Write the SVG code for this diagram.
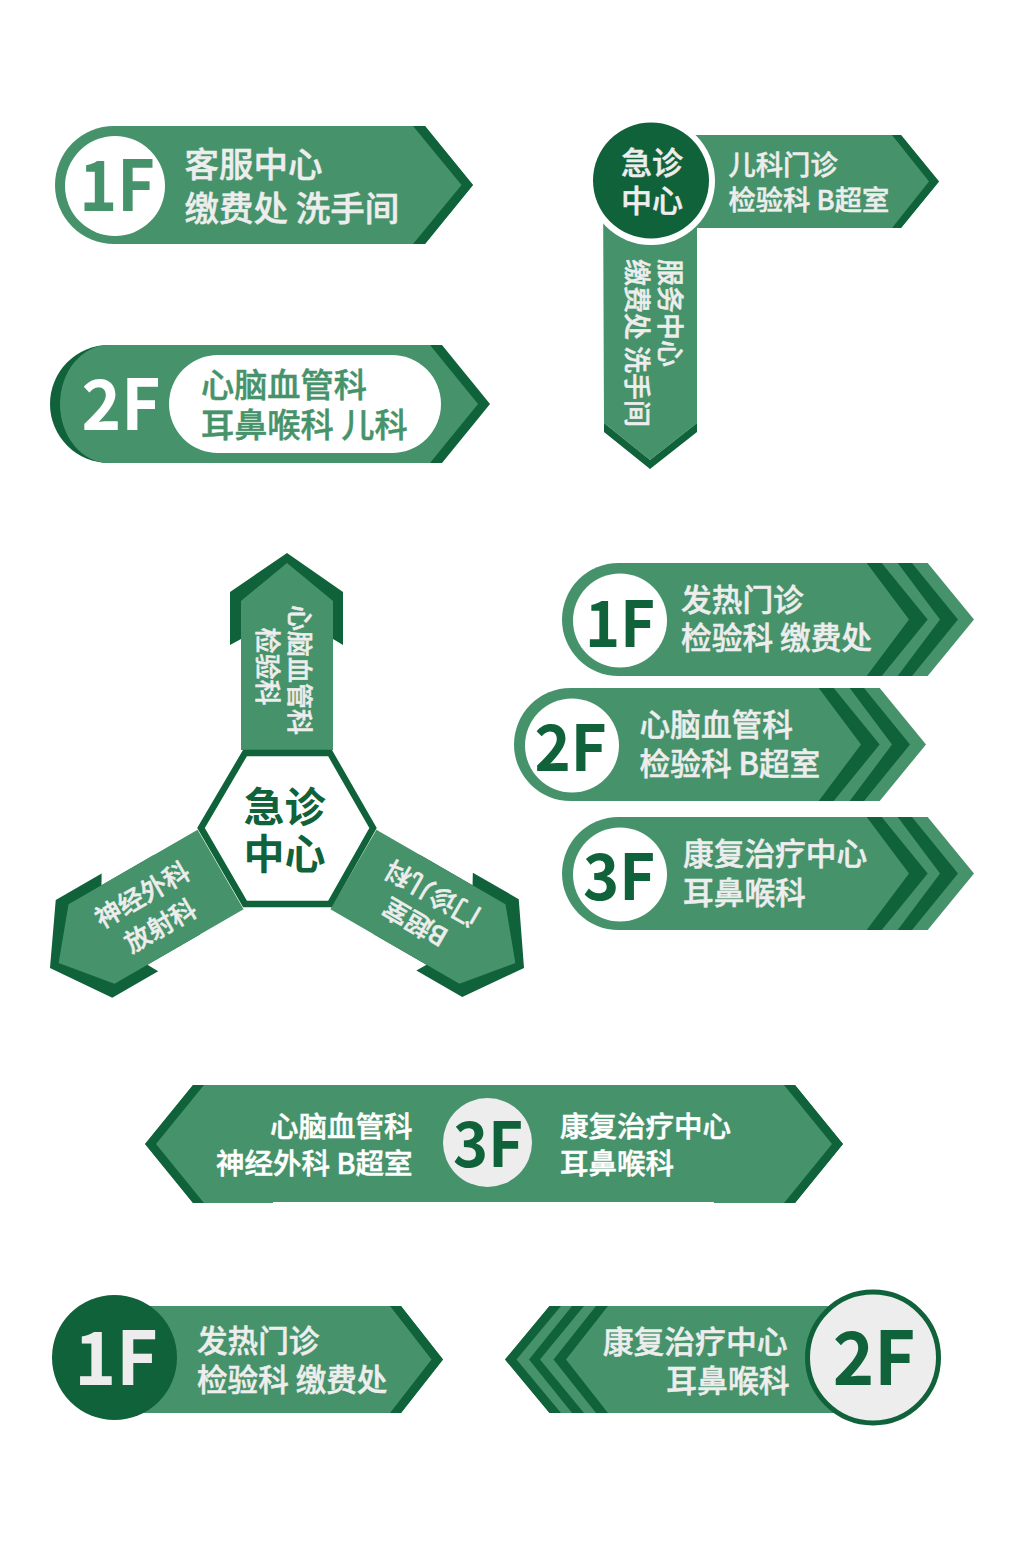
<svg xmlns="http://www.w3.org/2000/svg" width="1024" height="1542" viewBox="0 0 1024 1542">
<style>
text{font-family:"Noto Sans CJK SC","Noto Sans",sans-serif;font-weight:500}
.m{fill:#46936B}.d{fill:#10623A}.w{fill:#fff}.l{fill:#EDEDED}
text.m{stroke:#46936B;stroke-width:.5}text.w{stroke:#fff;stroke-width:.5}text.l{stroke:#EDEDED;stroke-width:.5}
text.n{font-weight:700;text-anchor:middle;stroke:none}
text.g{fill:#10623A}text.f{fill:#46936B}text.h{fill:#fff}
.e{text-anchor:end}.c{text-anchor:middle}
</style>
<defs>
<g id="tripleBar">
<path class="m" d="M56.500,0H365.700L412,56.500L365.700,113H56.500A56.500,56.500 0 0 1 56.500,0Z"/>
<path class="d" d="M304.700,0H319.700L365.700,56.500L319.700,113H304.700L347,56.500Z"/>
<path class="d" d="M335.700,0H350L396,56.500L350,113H335.700L378,56.500Z"/>
</g>
<g id="arm">
<path class="d" d="M230,592L287,553L343,592V645L333,639V700H241V639L230,645Z"/>
<path class="m" d="M241,750V601L287,563L333,601V750Z"/>
</g>
</defs>

<g id="pill-1f">
<path class="m" d="M114,126H425L473,185L425,244H114A59,59 0 0 1 114,126Z"/>
<path class="d" d="M413,126H425L473,185L425,244H413L461.500,185Z"/>
<circle class="w" cx="115" cy="186" r="50"/>
<text class="n f" transform="translate(117,211) scale(.92,1)" font-size="70">1F</text>
<text class="l" x="184.500" y="177" font-size="34.500">客服中心</text>
<text class="l" x="184.500" y="221" font-size="34.500">缴费处 洗手间</text>
</g>

<g id="pill-2f">
<path class="d" d="M109,345H442L490,404L442,463H109A59,59 0 0 1 109,345Z"/>
<path class="m" d="M109,345H430L478,404L430,463H109A49,59 0 0 1 109,345Z"/>
<rect class="w" x="169" y="355" width="272" height="98" rx="49"/>
<text class="n h" transform="translate(121,430) scale(.96,1)" font-size="70">2F</text>
<text class="m" x="201" y="397" font-size="33.200">心脑血管科</text>
<text class="m" x="201" y="437" font-size="33.200">耳鼻喉科 儿科</text>
</g>

<g id="corner-node">
<path class="m" d="M650,135H901L939,181.500L901,228H697V423L650,460L604,423L603,180Z"/>
<path class="d" d="M892,135H901L939,181.500L901,228H892L929,181.500Z"/>
<path class="d" d="M604,423L650,460L697,423V432L650,469L604,432Z"/>
<circle class="w" cx="651" cy="181" r="64"/>
<circle class="d" cx="651" cy="180.500" r="58"/>
<text class="l c" x="652" y="174" font-size="31">急诊</text>
<text class="l c" x="652" y="212" font-size="31">中心</text>
<text class="l" x="728.500" y="175" font-size="27.300">儿科门诊</text>
<text class="l" x="728.500" y="210" font-size="27.300">检验科 B超室</text>
<text class="l" transform="translate(660,259) rotate(90)" font-size="27">服务中心</text>
<text class="l" transform="translate(627,259) rotate(90)" font-size="27">缴费处 洗手间</text>
</g>

<g id="tri-arm-top">
<use href="#arm"/>
<text class="l c" transform="translate(290,670) rotate(90)" font-size="26">心脑血管科</text>
<text class="l c" transform="translate(257.500,666.500) rotate(90)" font-size="26">检验科</text>
</g>
<g id="tri-arm-right">
<use href="#arm" transform="translate(-2,1) rotate(120 287 829)"/>
<text class="l c" transform="translate(420,914) rotate(210)" font-size="26">B超室</text>
<text class="l c" transform="translate(437,885) rotate(210)" font-size="26">门诊儿科</text>
</g>
<g id="tri-arm-left">
<use href="#arm" transform="translate(2,1) rotate(-120 287 829)"/>
<text class="l c" transform="translate(147,903) rotate(-30)" font-size="26">神经外科</text>
<text class="l c" transform="translate(165,934) rotate(-30)" font-size="26">放射科</text>
</g>
<g id="tri-hub">
<path class="w" d="M201,828L245,753H330L373,828L330,904H245Z" stroke="#10623A" stroke-width="6.500"/>
<text class="d c" x="284.500" y="822" font-size="41" style="font-weight:700">急诊</text>
<text class="d c" x="284.500" y="869" font-size="41" style="font-weight:700">中心</text>
</g>

<g id="chevron-1f" transform="translate(562,563)">
<use href="#tripleBar"/>
<circle class="w" cx="58" cy="57.500" r="47"/>
<text class="n g" transform="translate(58,83.500) scale(.93,1)" font-size="64">1F</text>
<text class="l" x="119" y="48" font-size="30.700">发热门诊</text>
<text class="l" x="119" y="86" font-size="30.700">检验科 缴费处</text>
</g>
<g id="chevron-2f" transform="translate(514,688)">
<use href="#tripleBar"/>
<circle class="w" cx="58" cy="57.500" r="47"/>
<text class="n g" transform="translate(56.500,83) scale(.96,1)" font-size="64">2F</text>
<text class="l" x="125.500" y="47.500" font-size="30.700">心脑血管科</text>
<text class="l" x="125.500" y="87" font-size="30.700">检验科 B超室</text>
</g>
<g id="chevron-3f" transform="translate(562,817)">
<use href="#tripleBar"/>
<circle class="w" cx="58" cy="57.500" r="47"/>
<text class="n g" transform="translate(57,83) scale(.96,1)" font-size="64">3F</text>
<text class="l" x="121" y="48" font-size="30.700">康复治疗中心</text>
<text class="l" x="121" y="86.500" font-size="30.700">耳鼻喉科</text>
</g>

<g id="banner-3f">
<path class="m" d="M193,1085H795L843,1144L795,1203H714V1202H273V1203H193L145,1144Z"/>
<path class="d" d="M193,1085H204L156,1144L204,1203H193L145,1144Z"/>
<path class="d" d="M784,1085H795L843,1144L795,1203H784L832,1144Z"/>
<circle class="l" cx="487.500" cy="1142.500" r="44.500"/>
<text class="n g" transform="translate(488,1167) scale(.96,1)" font-size="62">3F</text>
<text class="w e" x="412.500" y="1137" font-size="28.500">心脑血管科</text>
<text class="w e" x="412.500" y="1174" font-size="28.500">神经外科 B超室</text>
<text class="w" x="560" y="1137" font-size="28.500">康复治疗中心</text>
<text class="w" x="560" y="1174" font-size="28.500">耳鼻喉科</text>
</g>

<g id="arrow-1f">
<path class="m" d="M114,1306H401L443,1359.500L401,1413H114Z"/>
<path class="d" d="M390,1306H401L443,1359.500L401,1413H390L431.500,1359.500Z"/>
<circle class="d" cx="114.500" cy="1357.500" r="62.500"/>
<text class="n l" transform="translate(116,1385) scale(.96,1)" font-size="74">1F</text>
<text class="l" x="197" y="1352" font-size="30.600">发热门诊</text>
<text class="l" x="197" y="1391" font-size="30.600">检验科 缴费处</text>
</g>

<g id="arrow-2f">
<path class="m" d="M549.500,1306H873V1413H549.500L505,1359.500Z"/>
<path class="d" d="M549.500,1306H561L516.500,1359.500L561,1413H549.500L505,1359.500Z"/>
<path class="d" d="M572,1306H584L540,1359.500L584,1413H572L529,1359.500Z"/>
<path class="d" d="M596,1306H608L566,1359.500L608,1413H596L553.500,1359.500Z"/>
<circle class="l" cx="873" cy="1357.500" r="65.500" stroke="#10623A" stroke-width="5"/>
<text class="n g" transform="translate(874,1385) scale(.95,1)" font-size="74">2F</text>
<text class="l e" x="787.500" y="1352.500" font-size="30.800">康复治疗中心</text>
<text class="l e" x="789.500" y="1391.500" font-size="30.800">耳鼻喉科</text>
</g>
<g id="connectors"/>
</svg>
